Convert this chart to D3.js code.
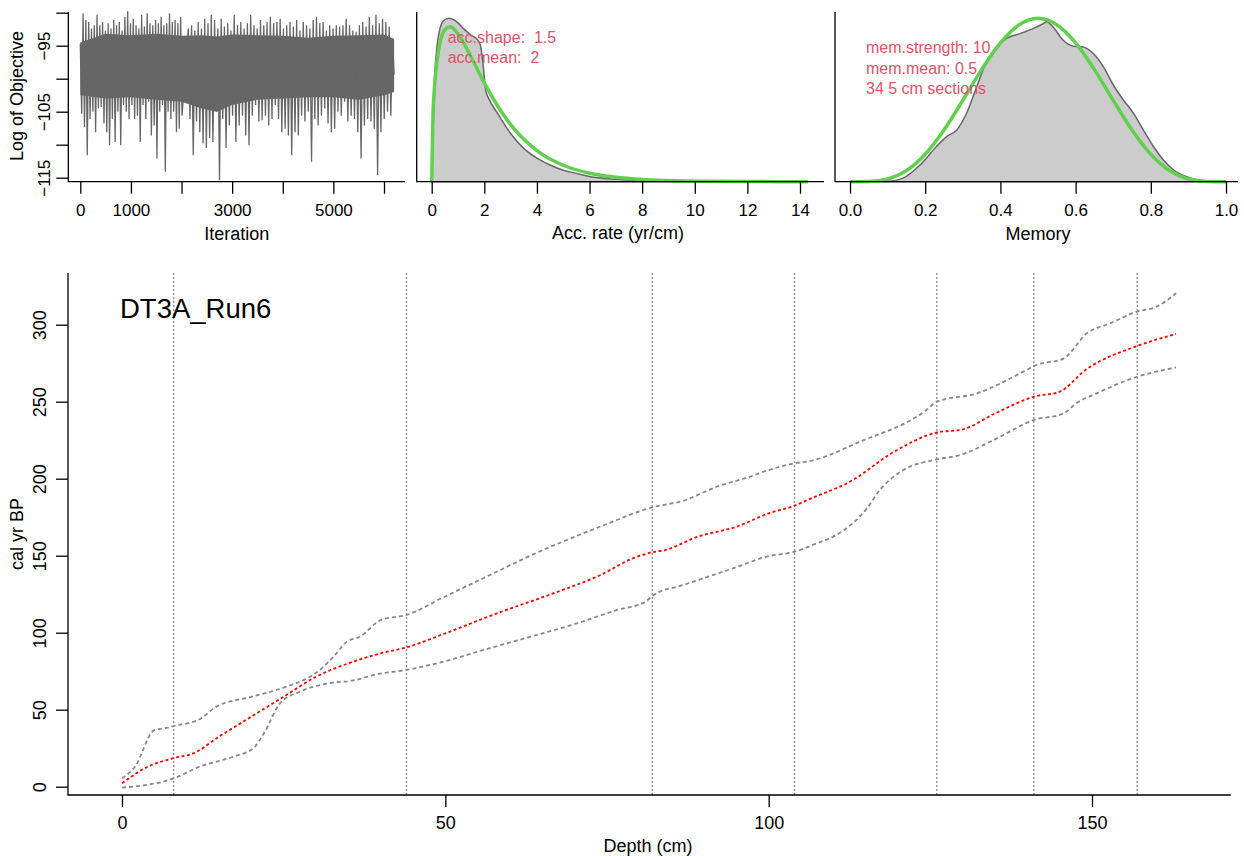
<!DOCTYPE html>
<html>
<head>
<meta charset="utf-8">
<script src="https://cdn.jsdelivr.net/npm/d3@7"></script>
<style>
  html, body { margin: 0; padding: 0; background: #fff; }
  svg { display: block; }
</style>
</head>
<body>
<script>
// ---------- MCMC trace: log of objective (alternating highs and lows of the chain) ----------
const traceHead = [-94.7,-105.3, -90.1,-107.3, -91.1,-111.6, -91.4,-106.1, -92.4,-105.0, -91.9,-108.1, -90.3,-104.5, -91.9,-104.3, -91.4,-106.8, -92.7,-108.1, -91.6,-110.1, -92.4,-106.1, -91.1,-109.6, -91.9,-105.0, -91.4,-110.1, -92.7,-104.0, -90.6,-105.0, -89.8,-106.1, -91.6,-104.0, -90.9,-106.1, -91.9,-105.6, -92.4,-109.6, -90.3,-104.0, -92.1,-106.1, -90.1,-103.5, -91.6,-108.6, -91.9,-107.1, -91.1,-112.1, -91.6,-105.0, -90.6,-104.0, -91.9,-114.1, -91.6,-105.0, -90.1,-106.1, -91.4,-105.0, -91.1,-108.1, -91.6,-107.6, -90.6,-105.6];
const traceMid = [-92.4,-106.1, -91.9,-111.6, -92.7,-106.5, -91.4,-108.1, -92.4,-109.8, -90.9,-110.5, -91.6,-109.0, -90.3,-109.6, -91.1,-105.0, -92.4,-115.4, -90.9,-106.1, -92.1,-110.5, -91.6,-107.1, -92.7,-105.6, -90.3,-109.6, -91.9,-107.1, -91.4,-105.6, -92.4,-108.6, -91.6,-110.1, -90.3,-105.6, -91.9,-104.0, -92.4,-106.5, -91.1,-106.3, -91.9,-105.6, -91.4,-107.1, -90.6,-106.1, -91.6,-104.0, -91.4,-106.1, -90.9,-108.1, -92.4,-107.6, -91.9,-108.6];
const traceTail = [-91.4,-111.6, -92.1,-108.1, -91.1,-108.6, -92.7,-105.6, -91.4,-106.5, -91.9,-105.0, -92.4,-112.6, -91.1,-106.1, -90.6,-107.1, -91.6,-105.6, -91.4,-104.5, -92.7,-106.8, -91.9,-108.1, -92.4,-107.6, -91.9,-105.0, -92.1,-105.6, -91.9,-103.5, -90.9,-106.5, -91.9,-105.6, -92.7,-106.1, -92.9,-108.1, -91.9,-112.1, -91.4,-107.1, -92.1,-106.1, -90.6,-106.5, -91.9,-107.6, -90.3,-114.6, -91.6,-108.1, -90.9,-106.1, -91.4,-105.0, -92.1,-105.6, -93.9,-99.4];
// iteration span covered by each block of the trace
const traceSpans = [[0, 2010], [2134, 4111], [4144, 6200]];
// the range the chain fills densely (where samples overlap into a solid band)
const bandIter   = [0, 500, 1000, 1500, 2000, 2400, 2700, 3000, 3500, 4000, 4500, 5000, 5500, 6000, 6200];
const bandTop    = [-94.5, -93.2, -93.4, -93.2, -93.5, -93.4, -93.6, -93.3, -93.4, -93.5, -93.8, -93.5, -93.4, -93.3, -94.0];
const bandBottom = [-102.5, -103.0, -102.8, -103.2, -103.5, -104.5, -105.0, -104.0, -103.2, -103.0, -102.8, -102.8, -103.2, -102.5, -102.0];

// ---------- accumulation rate: posterior (grey) and gamma prior (green) ----------
const accPostX = [0, 0.1, 0.2, 0.3, 0.45, 0.65, 0.85, 1.0, 1.2, 1.5, 1.75, 1.85, 1.95, 2.05, 2.2, 2.5, 3, 3.5, 4, 4.5, 5, 5.5, 6, 7, 8, 9, 10, 12, 14];
const accPostY = [0, 0.23, 0.316, 0.355, 0.377, 0.383, 0.379, 0.372, 0.359, 0.343, 0.332, 0.32, 0.277, 0.215, 0.191, 0.16, 0.113, 0.078, 0.055, 0.039, 0.027, 0.0195, 0.012, 0.0055, 0.0023, 0.0008, 0.0003, 0.0001, 0];
const accPriorX = [0, 0.05, 0.1, 0.2, 0.3, 0.5, 0.7, 1, 1.5, 2, 2.5, 3, 4, 5, 6, 7, 8, 10, 12, 14.3];
const accPriorY = [0, 0.158, 0.215, 0.282, 0.3205, 0.3562, 0.3628, 0.3462, 0.2915, 0.2313, 0.1778, 0.1338, 0.073, 0.0385, 0.0199, 0.0102, 0.0051, 0.0013, 0.0003, 0];

// ---------- memory: posterior (grey) and beta prior (green) ----------
const memPostX = [0, 0.1, 0.14, 0.186, 0.23, 0.257, 0.284, 0.31, 0.337, 0.363, 0.39, 0.417, 0.452, 0.488, 0.514, 0.523, 0.54, 0.567, 0.594, 0.62, 0.647, 0.674, 0.70, 0.727, 0.754, 0.78, 0.807, 0.833, 0.86, 0.895, 0.93, 0.975];
const memPostY = [0, 0.005, 0.05, 0.25, 0.53, 0.68, 0.78, 1.03, 1.43, 1.81, 2.03, 2.16, 2.23, 2.31, 2.38, 2.41, 2.33, 2.13, 2.04, 2.03, 1.93, 1.73, 1.46, 1.23, 1.03, 0.78, 0.53, 0.33, 0.18, 0.075, 0.025, 0];
const memPriorX = [0, 0.05, 0.1, 0.15, 0.2, 0.25, 0.3, 0.35, 0.4, 0.45, 0.5, 0.55, 0.6, 0.65, 0.7, 0.75, 0.8, 0.85, 0.9, 0.95, 1];
const memPriorY = [0, 0.0032, 0.0413, 0.1665, 0.4129, 0.7787, 1.2252, 1.6877, 2.0902, 2.3642, 2.4609, 2.3642, 2.0902, 1.6877, 1.2252, 0.7787, 0.4129, 0.1665, 0.0413, 0.0032, 0];

const accLabels = ["acc.shape:  1.5", "acc.mean:  2"];
const memLabels = ["mem.strength: 10", "mem.mean: 0.5", "34 5 cm sections"];

// ---------- age-depth model ----------
const coreName = "DT3A_Run6";
const meanDepth = [0, 4, 8, 11, 15, 20, 25, 30, 35, 40, 44, 50, 58, 66, 74, 79, 82, 84, 89, 95, 100, 104, 106, 113, 119, 126, 130, 135, 141, 145, 149, 157, 163];
const meanAge   = [2.2, 13, 18.6, 21.6, 32.5, 45.5, 58.4, 71.4, 80.1, 86.6, 90.5, 99.6, 112.6, 124.5, 137.5, 148.3, 152.2, 153.7, 162.3, 168.8, 177.5, 182.5, 186.2, 199.1, 216.5, 230, 232, 242.4, 253.2, 256.5, 270.6, 286.2, 294];
const upperDepth = [0, 2, 5, 6.5, 8, 12, 14.6, 20, 25, 28.6, 30.6, 32.7, 34.8, 36.8, 40, 44, 49.7, 58.5, 61.6, 73.9, 82, 86.8, 92, 97.1, 99.7, 104, 106.4, 114.1, 124.4, 126, 132.2, 139.4, 141.5, 145.6, 149.2, 152.8, 157, 160, 163];
const upperAge   = [5.4, 13, 36.8, 37.9, 39.4, 43.8, 52, 58.4, 64.3, 70.4, 75.8, 84.4, 94.2, 97.4, 108.2, 111.5, 123, 140.7, 147, 168.8, 181.4, 185.7, 194.8, 201.3, 205.2, 210, 211.5, 224, 244.6, 250, 255.4, 269.5, 274, 278, 294.4, 300.9, 308.5, 311.7, 320.4];
const lowerDepth = [0, 8, 12, 17.2, 20.3, 22, 24.4, 27.5, 31.7, 35.8, 39.4, 44, 49.7, 55.9, 63.6, 70.3, 76.5, 80.9, 82.2, 86.8, 94.5, 99.7, 104, 108, 110, 115.2, 117.2, 120.8, 126, 129.6, 135.3, 141, 145.6, 147.6, 150.7, 157, 163];
const lowerAge   = [-0.6, 5.4, 13, 19.5, 25, 35, 54, 61.7, 67, 69, 73, 75.8, 81.2, 88.8, 97.9, 106, 114.7, 120, 124.5, 131, 141.8, 149.4, 152.6, 159, 162.4, 180.8, 192.7, 205.6, 212.5, 215.4, 226.2, 238.1, 242.4, 249, 255.4, 266.2, 272.3];
const datedDepths = [8, 44, 82, 104, 126, 141, 157];

const depthTicks = [0, 50, 100, 150];
const ageTicks = [0, 50, 100, 150, 200, 250, 300];
const iterTicks = [0, 1000, 2000, 3000, 4000, 5000, 6000];
const iterLabelled = [0, 1000, 3000, 5000];
const objTicks = [-115, -110, -105, -100, -95, -90];
const objLabelled = [-115, -105, -95];
const accTicks = [0, 2, 4, 6, 8, 10, 12, 14];
const memTicks = [0, 0.2, 0.4, 0.6, 0.8, 1.0];

// ---------- drawing ----------
const FONT = "'Liberation Sans', Arial, Helvetica, sans-serif";
const RED = "#FF0000", PRIOR = "#61D04F", NOTE = "#DF536B", TRACE = "#666666";
const svg = d3.select("body").append("svg").attr("width", 1244).attr("height", 856);
svg.append("rect").attr("width", 1244).attr("height", 856).attr("fill", "#fff");

function frame(x0, x1, y0, y1) {
  svg.append("path").attr("d", `M${x0},${y0}V${y1}H${x1}`)
    .attr("fill", "none").attr("stroke", "#000").attr("stroke-width", 1.3);
}
function bottomAxis(scale, values, fmt, y, baseline, size) {
  const g = svg.append("g").attr("transform", `translate(0,${y})`)
    .call(d3.axisBottom(scale).tickValues(values).tickFormat(fmt).tickSize(12).tickSizeOuter(0));
  g.select(".domain").remove();
  g.selectAll(".tick line").attr("stroke", "#000").attr("stroke-width", 1.3);
  g.selectAll(".tick text").attr("y", baseline - y).attr("dy", 0)
    .attr("font-size", size).attr("font-family", FONT).attr("fill", "#000");
}
function leftAxis(scale, values, fmt, x, baselineX, size) {
  const g = svg.append("g").attr("transform", `translate(${x},0)`)
    .call(d3.axisLeft(scale).tickValues(values).tickFormat(fmt).tickSize(12).tickSizeOuter(0));
  g.select(".domain").remove();
  g.selectAll(".tick line").attr("stroke", "#000").attr("stroke-width", 1.3);
  g.selectAll(".tick text").attr("x", 0).attr("y", 0).attr("dy", 0)
    .attr("text-anchor", "middle")
    .attr("transform", `translate(${baselineX - x},0) rotate(-90)`)
    .attr("font-size", size).attr("font-family", FONT).attr("fill", "#000");
}
function label(text, x, y, size, rotate, anchor = "middle", fill = "#000") {
  svg.append("text").text(text)
    .attr("transform", `translate(${x},${y})` + (rotate ? " rotate(-90)" : ""))
    .attr("text-anchor", anchor).attr("font-size", size)
    .attr("font-family", FONT).attr("fill", fill)
    .style("white-space", "pre");
}
const fmtMinus = v => (v < 0 ? "\u2212" + Math.abs(v) : String(v));

// ----- panel 1: trace -----
{
  const x = d3.scaleLinear().domain([0, 6000]).range([80.3, 384]);
  const y = d3.scaleLinear().domain([-115, -90]).range([177.7, 12.7]);
  const band = bandIter.map((v, i) => [v, bandTop[i], bandBottom[i]]);
  svg.append("path").datum(band)
    .attr("d", d3.area().x(d => x(d[0])).y0(d => y(d[2])).y1(d => y(d[1])))
    .attr("fill", TRACE);
  const pts = [];
  [traceHead, traceMid, traceTail].forEach((arr, s) => {
    const [a, b] = traceSpans[s];
    arr.forEach((v, i) => pts.push([a + (b - a) * i / (arr.length - 1), v]));
  });
  svg.append("path").datum(pts)
    .attr("d", d3.line().x(d => x(d[0])).y(d => y(d[1])))
    .attr("fill", "none").attr("stroke", TRACE).attr("stroke-width", 1.3)
    .attr("stroke-linejoin", "miter");
  frame(68.3, 405, 12, 181.7);
  bottomAxis(x, iterTicks, d => iterLabelled.includes(d) ? d : "", 181.7, 216.5, 17);
  leftAxis(y, objTicks, d => objLabelled.includes(d) ? fmtMinus(d) : "", 68.3, 50, 17);
  label("Iteration", 236.7, 240, 18);
  label("Log of Objective", 23, 96, 18, true);
}

// ----- panel 2: accumulation rate -----
{
  const x = d3.scaleLinear().domain([0, 14]).range([431.7, 800]);
  const y = d3.scaleLinear().domain([0, 0.38]).range([181.7, 181.7 - 0.38 * 427]);
  const post = accPostX.map((v, i) => [v, accPostY[i]]);
  const prior = accPriorX.map((v, i) => [v, accPriorY[i]]);
  svg.append("path").datum(post)
    .attr("d", d3.area().x(d => x(d[0])).y0(y(0)).y1(d => y(d[1])).curve(d3.curveMonotoneX))
    .attr("fill", "#cccccc").attr("stroke", "#666").attr("stroke-width", 1.5);
  svg.append("path").datum(prior)
    .attr("d", d3.line().x(d => x(d[0])).y(d => y(d[1])).curve(d3.curveMonotoneX))
    .attr("fill", "none").attr("stroke", PRIOR).attr("stroke-width", 3.5);
  frame(416.7, 824, 12, 181.7);
  bottomAxis(x, accTicks, d => d, 181.7, 216, 17);
  label("Acc. rate (yr/cm)", 618, 239, 18);
  accLabels.forEach((t, i) => label(t, 447.7, 42.7 + i * 20, 16, false, "start", NOTE));
}

// ----- panel 3: memory -----
{
  const x = d3.scaleLinear().domain([0, 1]).range([850, 1226]);
  const y = d3.scaleLinear().domain([0, 2.5]).range([181.7, 181.7 - 2.5 * 66.4]);
  const post = memPostX.map((v, i) => [v, memPostY[i]]);
  const prior = memPriorX.map((v, i) => [v, memPriorY[i]]);
  svg.append("path").datum(post)
    .attr("d", d3.area().x(d => x(d[0])).y0(y(0)).y1(d => y(d[1])).curve(d3.curveMonotoneX))
    .attr("fill", "#cccccc").attr("stroke", "#666").attr("stroke-width", 1.5);
  svg.append("path").datum(prior)
    .attr("d", d3.line().x(d => x(d[0])).y(d => y(d[1])).curve(d3.curveMonotoneX))
    .attr("fill", "none").attr("stroke", PRIOR).attr("stroke-width", 3.5);
  frame(835, 1238, 12, 181.7);
  bottomAxis(x, memTicks, d3.format(".1f"), 181.7, 216, 17);
  label("Memory", 1038, 240, 18);
  memLabels.forEach((t, i) => label(t, 866, 53 + i * 20.5, 16, false, "start", NOTE));
}

// ----- main panel: age-depth model -----
{
  const x = d3.scaleLinear().domain([0, 150]).range([122, 1092]);
  const y = d3.scaleLinear().domain([0, 300]).range([786.7, 324.7]);
  svg.append("g").selectAll("line").data(datedDepths).join("line")
    .attr("x1", d => x(d)).attr("x2", d => x(d))
    .attr("y1", 273).attr("y2", 795)
    .attr("stroke", "#8a8a8a").attr("stroke-width", 1.3).attr("stroke-dasharray", "2,2");
  const line = d3.line().x(d => x(d[0])).y(d => y(d[1])).curve(d3.curveMonotoneX);
  const series = [
    { d: upperDepth, a: upperAge, c: "#888", dash: "4,3" },
    { d: lowerDepth, a: lowerAge, c: "#888", dash: "4,3" },
    { d: meanDepth, a: meanAge, c: RED, dash: "3,2.5" }
  ];
  series.forEach(s => {
    svg.append("path").datum(s.d.map((v, i) => [v, s.a[i]]))
      .attr("d", line).attr("fill", "none")
      .attr("stroke", s.c).attr("stroke-width", 1.8).attr("stroke-dasharray", s.dash);
  });
  frame(68, 1230.7, 273, 795);
  bottomAxis(x, depthTicks, d => d, 795, 828.5, 18);
  leftAxis(y, ageTicks, d => d, 68, 46, 18);
  label("Depth (cm)", 648, 852, 18);
  label("cal yr BP", 23, 534, 18, true);
  label(coreName, 120, 318, 27.5, false, "start");
}
</script>
</body>
</html>
